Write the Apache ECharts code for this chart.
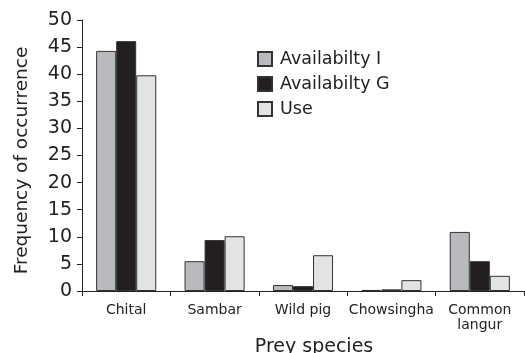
<!DOCTYPE html>
<html><head><meta charset="utf-8">
<script src="https://cdn.jsdelivr.net/npm/echarts@6/dist/echarts.min.js"></script>
<style>html,body{margin:0;padding:0;background:#fff}#c{width:525px;height:353px}</style>
</head><body><div id="c"></div>
<script>
const categories = ['Chital', 'Sambar', 'Wild pig', 'Chowsingha', 'Common\nlangur'];
const availI = [44.3, 5.5, 1.1, 0.2, 10.9];
const availG = [46.1, 9.4, 0.9, 0.3, 5.5];
const useV = [39.8, 10.1, 6.6, 2.0, 2.8];
const yTicks = [0, 5, 10, 15, 20, 25, 30, 35, 40, 45, 50];

const font = 'DejaVu Sans, sans-serif';
const chart = echarts.init(document.getElementById('c'), null, {renderer: 'canvas'});
const bs = {borderColor: '#333', borderWidth: 1};
chart.setOption({
  animation: false,
  textStyle: {fontFamily: font},
  grid: {left: 82, right: 1, top: 20, bottom: 62, containLabel: false, outerBoundsMode: 'none'},
  legend: {
    orient: 'vertical', left: 252, top: 45, itemWidth: 14, itemHeight: 14, itemGap: 7,
    icon: 'rect',
    textStyle: {fontSize: 17.5, color: '#222', fontFamily: font, padding: [0, 0, 0, 3]},
    data: ['Availabilty I', 'Availabilty G', 'Use']
  },
  xAxis: {
    type: 'category', data: categories,
    name: 'Prey species', nameLocation: 'middle', nameGap: 42,
    nameTextStyle: {fontSize: 19, color: '#222', padding: [0, 0, 0, 22]},
    axisLine: {lineStyle: {color: '#222', width: 1}},
    axisTick: {show: true, length: 5, lineStyle: {color: '#222'}},
    axisLabel: {fontSize: 14, color: '#222', margin: 12, lineHeight: 15, interval: 0}
  },
  yAxis: {
    type: 'value', min: 0, max: 50, interval: 5,
    name: 'Frequency of occurrence', nameLocation: 'middle', nameGap: 50,
    nameTextStyle: {fontSize: 18.5, color: '#222', padding: [0, 10, 0, 0]},
    axisLine: {show: true, lineStyle: {color: '#222', width: 1}},
    axisTick: {show: true, length: 5, lineStyle: {color: '#222'}},
    axisLabel: {fontSize: 19, color: '#222', margin: 10,
      formatter: v => yTicks.includes(v) ? String(v) : ''},
    splitLine: {show: false}
  },
  series: [
    {name: 'Availabilty I', type: 'bar', data: availI, barGap: '0%', barCategoryGap: '32%',
     itemStyle: Object.assign({color: '#b9babe'}, bs)},
    {name: 'Availabilty G', type: 'bar', data: availG, barGap: '0%', barCategoryGap: '32%',
     itemStyle: Object.assign({color: '#231f20'}, bs)},
    {name: 'Use', type: 'bar', data: useV, barGap: '0%', barCategoryGap: '32%',
     itemStyle: Object.assign({color: '#e2e3e5'}, bs)}
  ]
});
</script></body></html>
